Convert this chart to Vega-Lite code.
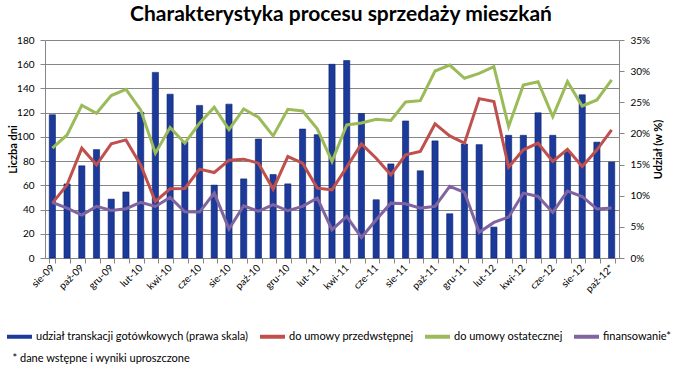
{
  "$schema": "https://vega.github.io/schema/vega-lite/v6.json",
  "autosize": {"type": "none"},
  "width": 574,
  "height": 218,
  "padding": {"left": 45, "top": 40, "right": 64, "bottom": 132},
  "background": "white",
  "config": {
    "font": "Lato",
    "view": {"stroke": null}
  },
  "title": {
    "text": "Charakterystyka procesu sprzedaży mieszkań",
    "fontSize": 21,
    "fontWeight": "bold",
    "color": "#000000",
    "anchor": "middle",
    "dx": 9,
    "offset": 10
  },
  "data": {
    "values": [
      {"m": "sie-09", "udzial": 0.230, "do umowy przedwstępnej": 45.3, "do umowy ostatecznej": 90.7, "finansowanie*": 45.9},
      {"m": "wrz-09", "udzial": 0.119, "do umowy przedwstępnej": 60.4, "do umowy ostatecznej": 101.6, "finansowanie*": 41.2},
      {"m": "paź-09", "udzial": 0.148, "do umowy przedwstępnej": 90.7, "do umowy ostatecznej": 126.1, "finansowanie*": 35.4},
      {"m": "lis-09", "udzial": 0.174, "do umowy przedwstępnej": 76.9, "do umowy ostatecznej": 119.5, "finansowanie*": 42.6},
      {"m": "gru-09", "udzial": 0.0945, "do umowy przedwstępnej": 94.2, "do umowy ostatecznej": 134.1, "finansowanie*": 39.3},
      {"m": "sty-10", "udzial": 0.106, "do umowy przedwstępnej": 97.5, "do umowy ostatecznej": 139.3, "finansowanie*": 40.7},
      {"m": "lut-10", "udzial": 0.234, "do umowy przedwstępnej": 76.9, "do umowy ostatecznej": 122.3, "finansowanie*": 45.9},
      {"m": "mar-10", "udzial": 0.298, "do umowy przedwstępnej": 46.7, "do umowy ostatecznej": 86.5, "finansowanie*": 42.6},
      {"m": "kwi-10", "udzial": 0.263, "do umowy przedwstępnej": 57.1, "do umowy ostatecznej": 107.7, "finansowanie*": 50.0},
      {"m": "maj-10", "udzial": 0.187, "do umowy przedwstępnej": 57.4, "do umowy ostatecznej": 94.8, "finansowanie*": 38.2},
      {"m": "cze-10", "udzial": 0.245, "do umowy przedwstępnej": 73.4, "do umowy ostatecznej": 111.3, "finansowanie*": 37.9},
      {"m": "lip-10", "udzial": 0.117, "do umowy przedwstępnej": 70.6, "do umowy ostatecznej": 124.5, "finansowanie*": 53.6},
      {"m": "sie-10", "udzial": 0.247, "do umowy przedwstępnej": 80.8, "do umowy ostatecznej": 106.0, "finansowanie*": 24.0},
      {"m": "wrz-10", "udzial": 0.127, "do umowy przedwstępnej": 81.6, "do umowy ostatecznej": 123.1, "finansowanie*": 43.1},
      {"m": "paź-10", "udzial": 0.191, "do umowy przedwstępnej": 78.3, "do umowy ostatecznej": 116.2, "finansowanie*": 38.5},
      {"m": "lis-10", "udzial": 0.134, "do umowy przedwstępnej": 56.9, "do umowy ostatecznej": 100.8, "finansowanie*": 44.0},
      {"m": "gru-10", "udzial": 0.119, "do umowy przedwstępnej": 83.8, "do umowy ostatecznej": 122.8, "finansowanie*": 39.0},
      {"m": "sty-11", "udzial": 0.207, "do umowy przedwstępnej": 78.3, "do umowy ostatecznej": 121.4, "finansowanie*": 42.6},
      {"m": "lut-11", "udzial": 0.198, "do umowy przedwstępnej": 57.7, "do umowy ostatecznej": 106.6, "finansowanie*": 49.5},
      {"m": "mar-11", "udzial": 0.311, "do umowy przedwstępnej": 56.3, "do umowy ostatecznej": 79.7, "finansowanie*": 23.4},
      {"m": "kwi-11", "udzial": 0.317, "do umowy przedwstępnej": 75.0, "do umowy ostatecznej": 109.9, "finansowanie*": 34.3},
      {"m": "maj-11", "udzial": 0.232, "do umowy przedwstępnej": 94.2, "do umowy ostatecznej": 111.5, "finansowanie*": 17.0},
      {"m": "cze-11", "udzial": 0.0935, "do umowy przedwstępnej": 82.4, "do umowy ostatecznej": 114.6, "finansowanie*": 31.6},
      {"m": "lip-11", "udzial": 0.151, "do umowy przedwstępnej": 68.7, "do umowy ostatecznej": 113.5, "finansowanie*": 45.3},
      {"m": "sie-11", "udzial": 0.220, "do umowy przedwstępnej": 85.2, "do umowy ostatecznej": 128.8, "finansowanie*": 44.8},
      {"m": "wrz-11", "udzial": 0.140, "do umowy przedwstępnej": 87.9, "do umowy ostatecznej": 129.9, "finansowanie*": 41.2},
      {"m": "paź-11", "udzial": 0.188, "do umowy przedwstępnej": 110.7, "do umowy ostatecznej": 154.4, "finansowanie*": 42.6},
      {"m": "lis-11", "udzial": 0.071, "do umowy przedwstępnej": 100.8, "do umowy ostatecznej": 159.3, "finansowanie*": 59.1},
      {"m": "gru-11", "udzial": 0.183, "do umowy przedwstępnej": 94.8, "do umowy ostatecznej": 148.4, "finansowanie*": 54.1},
      {"m": "sty-12", "udzial": 0.182, "do umowy przedwstępnej": 131.6, "do umowy ostatecznej": 152.5, "finansowanie*": 21.2},
      {"m": "lut-12", "udzial": 0.0496, "do umowy przedwstępnej": 129.1, "do umowy ostatecznej": 158.0, "finansowanie*": 29.4},
      {"m": "mar-12", "udzial": 0.197, "do umowy przedwstępnej": 75.0, "do umowy ostatecznej": 108.5, "finansowanie*": 33.8},
      {"m": "kwi-12", "udzial": 0.197, "do umowy przedwstępnej": 89.3, "do umowy ostatecznej": 142.9, "finansowanie*": 53.6},
      {"m": "maj-12", "udzial": 0.233, "do umowy przedwstępnej": 94.8, "do umowy ostatecznej": 145.6, "finansowanie*": 50.8},
      {"m": "cze-12", "udzial": 0.197, "do umowy przedwstępnej": 79.7, "do umowy ostatecznej": 116.8, "finansowanie*": 37.6},
      {"m": "lip-12", "udzial": 0.171, "do umowy przedwstępnej": 89.8, "do umowy ostatecznej": 145.6, "finansowanie*": 55.2},
      {"m": "sie-12", "udzial": 0.262, "do umowy przedwstępnej": 75.5, "do umowy ostatecznej": 125.5, "finansowanie*": 50.8},
      {"m": "wrz-12", "udzial": 0.186, "do umowy przedwstępnej": 89.3, "do umowy ostatecznej": 130.5, "finansowanie*": 40.4},
      {"m": "paź-12*", "udzial": 0.154, "do umowy przedwstępnej": 105.8, "do umowy ostatecznej": 147.0, "finansowanie*": 41.2}
    ]
  },
  "encoding": {
    "x": {
      "field": "m",
      "type": "ordinal",
      "sort": null,
      "scale": {"paddingInner": 0.58, "paddingOuter": 0.29},
      "axis": {
        "labelExpr": "test(/^(sie|paź|gru|lut|kwi|cze)/, datum.value) ? datum.value : ''",
        "labelAngle": -45,
        "labelAlign": "right",
        "labelBaseline": "middle",
        "labelFontSize": 10,
        "labelColor": "#000000",
        "labelPadding": 3,
        "labelOverlap": false,
        "tickBand": "extent",
        "tickColor": "#868686",
        "tickSize": 5,
        "domainColor": "#868686",
        "grid": false,
        "title": "* dane wstępne i wyniki uproszczone",
        "titleX": -33,
        "titleY": 100,
        "titleAlign": "left",
        "titleBaseline": "middle",
        "titleFontSize": 11,
        "titleFontWeight": "normal",
        "titleColor": "#000000"
      }
    }
  },
  "layer": [
    {
      "mark": {"type": "bar", "color": "#1B3A9A", "stroke": "#0D2270", "strokeWidth": 0.6},
      "encoding": {
        "y": {
          "field": "udzial",
          "type": "quantitative",
          "scale": {"domain": [0, 0.35], "nice": false},
          "axis": {
            "orient": "right",
            "values": [0, 0.05, 0.1, 0.15, 0.2, 0.25, 0.3, 0.35],
            "format": ".0%",
            "grid": false,
            "labelFontSize": 10,
            "labelColor": "#000000",
            "labelPadding": 6,
            "tickSize": 5,
            "tickColor": "#868686",
            "domainColor": "#868686",
            "title": "Udział (w %)",
            "titleAngle": 270,
            "titleX": 39,
            "titleY": 109,
            "titleAlign": "center",
            "titleBaseline": "middle",
            "titleFontSize": 11,
            "titleFontWeight": "bold",
            "titleColor": "#000000"
          }
        },
        "color": {
          "datum": "udział transkacji gotówkowych (prawa skala)",
          "type": "nominal",
          "scale": {
            "domain": ["udział transkacji gotówkowych (prawa skala)", "do umowy przedwstępnej", "do umowy ostatecznej", "finansowanie*"],
            "range": ["#1B3A9A", "#C0504D", "#9BBB59", "#8064A2"]
          },
          "legend": {
            "orient": "none",
            "direction": "horizontal",
            "legendX": -40,
            "legendY": 282,
            "title": null,
            "symbolType": "stroke",
            "symbolStrokeWidth": 4,
            "symbolSize": 625,
            "labelFontSize": 11,
            "labelColor": "#000000",
            "labelOffset": 2,
            "columnPadding": 3,
            "labelLimit": 400
          }
        }
      }
    },
    {
      "transform": [
        {"fold": ["do umowy przedwstępnej", "do umowy ostatecznej", "finansowanie*"], "as": ["seria", "dni"]}
      ],
      "mark": {"type": "line", "strokeWidth": 3},
      "encoding": {
        "y": {
          "field": "dni",
          "type": "quantitative",
          "scale": {"domain": [0, 180], "nice": false},
          "axis": {
            "orient": "left",
            "values": [0, 20, 40, 60, 80, 100, 120, 140, 160, 180],
            "grid": true,
            "gridColor": "#868686",
            "gridWidth": 1,
            "labelFontSize": 10,
            "labelColor": "#000000",
            "labelPadding": 6,
            "tickSize": 5,
            "tickColor": "#868686",
            "domainColor": "#868686",
            "title": "Liczba dni",
            "titleX": -32,
            "titleY": 109,
            "titleAlign": "center",
            "titleBaseline": "middle",
            "titleFontSize": 11,
            "titleFontWeight": "bold",
            "titleColor": "#000000"
          }
        },
        "color": {
          "field": "seria",
          "type": "nominal",
          "legend": {
            "orient": "none",
            "direction": "horizontal",
            "legendX": -40,
            "legendY": 282,
            "title": null,
            "symbolType": "stroke",
            "symbolStrokeWidth": 4,
            "symbolSize": 625,
            "labelFontSize": 11,
            "labelColor": "#000000",
            "labelOffset": 2,
            "columnPadding": 3,
            "labelLimit": 400
          }
        }
      }
    }
  ],
  "resolve": {"scale": {"y": "independent"}, "axis": {"y": "independent"}}
}
